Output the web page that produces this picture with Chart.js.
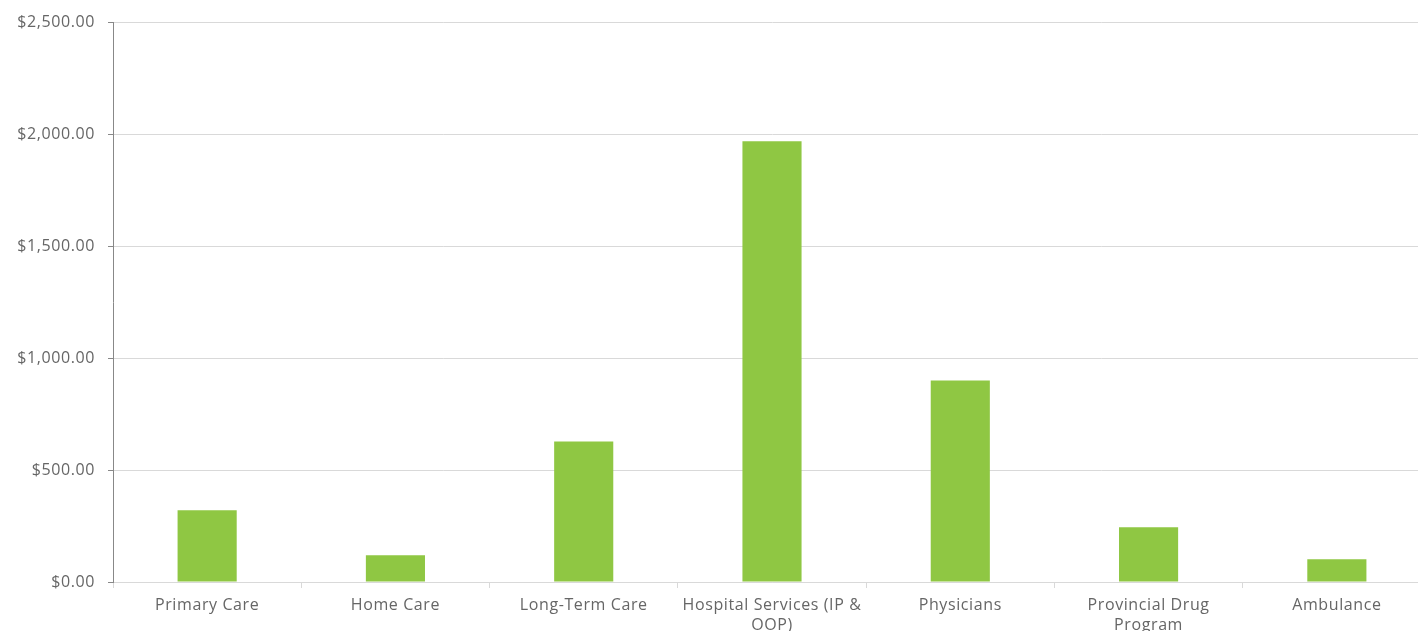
<!DOCTYPE html>
<html>
<head>
<meta charset="utf-8">
<script src="https://cdn.jsdelivr.net/npm/chart.js@4/dist/chart.umd.min.js"></script>
<style>
  html, body { margin: 0; padding: 0; background: #fff; overflow: hidden; }
  #wrap { width: 1431px; height: 631px; }
</style>
</head>
<body>
<div id="wrap"><canvas id="costChart"></canvas></div>
<script>
const categories = [
  'Primary Care',
  'Home Care',
  'Long-Term Care',
  ['Hospital Services (IP &', 'OOP)'],
  'Physicians',
  ['Provincial Drug', 'Program'],
  'Ambulance'
];
const costs = [321, 120, 628, 1970, 900, 245, 102];
const yTicks = [0, 500, 1000, 1500, 2000, 2500];

const fmt = v => '$' + v.toLocaleString('en-US', { minimumFractionDigits: 2, maximumFractionDigits: 2 });

// canvas text a little wider, like the original
const spacing = {
  id: 'spacing',
  beforeUpdate: c => { c.ctx.letterSpacing = '0.6px'; },
  beforeDraw: c => { c.ctx.letterSpacing = '0.6px'; }
};

const ctx = document.getElementById('costChart').getContext('2d');
new Chart(ctx, {
  type: 'bar',
  data: {
    labels: categories,
    datasets: [{
      data: costs,
      backgroundColor: '#8fc743',
      categoryPercentage: 1,
      barPercentage: 0.314
    }]
  },
  plugins: [spacing],
  options: {
    responsive: true,
    maintainAspectRatio: false,
    animation: false,
    layout: { padding: { top: 19, right: 0 } },
    plugins: { legend: { display: false }, tooltip: { enabled: false } },
    scales: {
      x: {
        grid: { display: true, drawOnChartArea: false, color: '#d9d9d9', tickLength: 6 },
        border: { color: '#d9d9d9' },
        ticks: { color: '#666', font: { family: 'Open Sans', size: 16, lineHeight: 1.22 }, maxRotation: 0, autoSkip: false, padding: 8 },
        afterFit: s => { s.height = 49; }
      },
      y: {
        min: 0,
        max: 2500,
        afterBuildTicks: s => { s.ticks = yTicks.map(v => ({ value: v })); },
        grid: { color: '#d9d9d9', tickColor: '#888', tickLength: 5 },
        border: { color: '#888' },
        ticks: { color: '#666', font: { family: 'Open Sans', size: 16 }, padding: 13, callback: v => fmt(v) },
        afterFit: s => { s.width = 113; }
      }
    }
  }
});
</script>
</body>
</html>
